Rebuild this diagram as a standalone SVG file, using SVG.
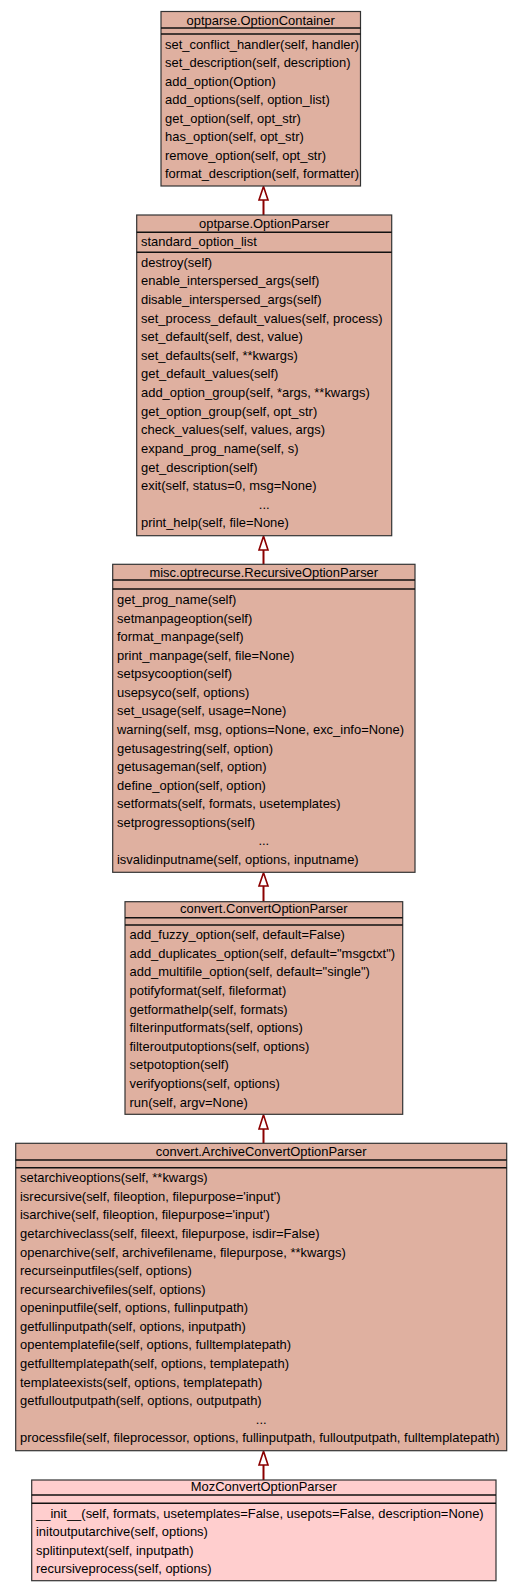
<svg xmlns="http://www.w3.org/2000/svg" width="528" height="1592" viewBox="0 0 528 1592">
<style>
.box{fill:#dfb0a0;stroke:#333;stroke-width:1.2}
.moz{fill:#ffcece;stroke:#333;stroke-width:1.2}
.sep{stroke:#111;stroke-width:1.6}
text{font-family:"Liberation Sans",Arial,Helvetica,sans-serif;font-size:12.95px;fill:#000}
.c{text-anchor:middle}
.edge{stroke:#8b0000;stroke-width:2;fill:none}
.head{stroke:#8b0000;stroke-width:1.6;fill:#fff}
</style>
<rect width="528" height="1592" fill="#fff"/>
<g id="connectors">
<line class="edge" x1="263.5" y1="200" x2="263.5" y2="215"/>
<polygon class="head" points="263.5,186.5 259,200 268,200"/>
<line class="edge" x1="263.5" y1="550" x2="263.5" y2="564.3"/>
<polygon class="head" points="263.5,536.2 259,550 268,550"/>
<line class="edge" x1="263.5" y1="886" x2="263.5" y2="901.7"/>
<polygon class="head" points="263.5,872.8 259,886 268,886"/>
<line class="edge" x1="263.5" y1="1129" x2="263.5" y2="1143.3"/>
<polygon class="head" points="263.5,1114.8 259,1129 268,1129"/>
<line class="edge" x1="263.5" y1="1465" x2="263.5" y2="1480"/>
<polygon class="head" points="263.5,1451.2 259,1465 268,1465"/>
</g>
<g id="OptionContainer">
<rect class="box" x="161" y="11.5" width="199.5" height="174.5"/>
<line class="sep" x1="161" y1="28" x2="360.5" y2="28"/>
<line class="sep" x1="161" y1="34" x2="360.5" y2="34"/>
<text class="c" x="260.7" y="25">optparse.OptionContainer</text>
<text x="165" y="49">set_conflict_handler(self, handler)</text>
<text x="165" y="67.45">set_description(self, description)</text>
<text x="165" y="85.9">add_option(Option)</text>
<text x="165" y="104.35">add_options(self, option_list)</text>
<text x="165" y="122.8">get_option(self, opt_str)</text>
<text x="165" y="141.25">has_option(self, opt_str)</text>
<text x="165" y="159.7">remove_option(self, opt_str)</text>
<text x="165" y="178.15">format_description(self, formatter)</text>
</g>
<g id="OptionParser">
<rect class="box" x="136.7" y="215" width="255" height="320.7"/>
<line class="sep" x1="136.7" y1="232.3" x2="391.7" y2="232.3"/>
<line class="sep" x1="136.7" y1="252.3" x2="391.7" y2="252.3"/>
<text class="c" x="264.2" y="228">optparse.OptionParser</text>
<text x="141" y="245.7">standard_option_list</text>
<text x="141" y="266.7">destroy(self)</text>
<text x="141" y="285.3">enable_interspersed_args(self)</text>
<text x="141" y="303.9">disable_interspersed_args(self)</text>
<text x="141" y="322.6">set_process_default_values(self, process)</text>
<text x="141" y="341.2">set_default(self, dest, value)</text>
<text x="141" y="359.8">set_defaults(self, **kwargs)</text>
<text x="141" y="378.4">get_default_values(self)</text>
<text x="141" y="397">add_option_group(self, *args, **kwargs)</text>
<text x="141" y="415.7">get_option_group(self, opt_str)</text>
<text x="141" y="434.3">check_values(self, values, args)</text>
<text x="141" y="452.9">expand_prog_name(self, s)</text>
<text x="141" y="471.5">get_description(self)</text>
<text x="141" y="490.1">exit(self, status=0, msg=None)</text>
<text class="c" x="264.2" y="508.8">...</text>
<text x="141" y="527.4">print_help(self, file=None)</text>
</g>
<g id="RecursiveOptionParser">
<rect class="box" x="112.7" y="564.3" width="302.3" height="308"/>
<line class="sep" x1="112.7" y1="580" x2="415" y2="580"/>
<line class="sep" x1="112.7" y1="589" x2="415" y2="589"/>
<text class="c" x="263.8" y="576.8">misc.optrecurse.RecursiveOptionParser</text>
<text x="117" y="604">get_prog_name(self)</text>
<text x="117" y="622.57">setmanpageoption(self)</text>
<text x="117" y="641.14">format_manpage(self)</text>
<text x="117" y="659.71">print_manpage(self, file=None)</text>
<text x="117" y="678.28">setpsycooption(self)</text>
<text x="117" y="696.85">usepsyco(self, options)</text>
<text x="117" y="715.42">set_usage(self, usage=None)</text>
<text x="117" y="733.99">warning(self, msg, options=None, exc_info=None)</text>
<text x="117" y="752.56">getusagestring(self, option)</text>
<text x="117" y="771.13">getusageman(self, option)</text>
<text x="117" y="789.7">define_option(self, option)</text>
<text x="117" y="808.27">setformats(self, formats, usetemplates)</text>
<text x="117" y="826.84">setprogressoptions(self)</text>
<text class="c" x="263.8" y="845.41">...</text>
<text x="117" y="863.98">isvalidinputname(self, options, inputname)</text>
</g>
<g id="ConvertOptionParser">
<rect class="box" x="125" y="901.7" width="277.7" height="212.6"/>
<line class="sep" x1="125" y1="917.7" x2="402.7" y2="917.7"/>
<line class="sep" x1="125" y1="925" x2="402.7" y2="925"/>
<text class="c" x="263.8" y="912.5">convert.ConvertOptionParser</text>
<text x="129.5" y="939">add_fuzzy_option(self, default=False)</text>
<text x="129.5" y="957.63">add_duplicates_option(self, default="msgctxt")</text>
<text x="129.5" y="976.26">add_multifile_option(self, default="single")</text>
<text x="129.5" y="994.89">potifyformat(self, fileformat)</text>
<text x="129.5" y="1013.52">getformathelp(self, formats)</text>
<text x="129.5" y="1032.15">filterinputformats(self, options)</text>
<text x="129.5" y="1050.78">filteroutputoptions(self, options)</text>
<text x="129.5" y="1069.41">setpotoption(self)</text>
<text x="129.5" y="1088.04">verifyoptions(self, options)</text>
<text x="129.5" y="1106.67">run(self, argv=None)</text>
</g>
<g id="ArchiveConvertOptionParser">
<rect class="box" x="15.7" y="1143.3" width="491" height="307.4"/>
<line class="sep" x1="15.7" y1="1160" x2="506.7" y2="1160"/>
<line class="sep" x1="15.7" y1="1167.7" x2="506.7" y2="1167.7"/>
<text class="c" x="261.2" y="1155.7">convert.ArchiveConvertOptionParser</text>
<text x="20" y="1182.3">setarchiveoptions(self, **kwargs)</text>
<text x="20" y="1200.87">isrecursive(self, fileoption, filepurpose='input')</text>
<text x="20" y="1219.44">isarchive(self, fileoption, filepurpose='input')</text>
<text x="20" y="1238.01">getarchiveclass(self, fileext, filepurpose, isdir=False)</text>
<text x="20" y="1256.58">openarchive(self, archivefilename, filepurpose, **kwargs)</text>
<text x="20" y="1275.15">recurseinputfiles(self, options)</text>
<text x="20" y="1293.72">recursearchivefiles(self, options)</text>
<text x="20" y="1312.29">openinputfile(self, options, fullinputpath)</text>
<text x="20" y="1330.86">getfullinputpath(self, options, inputpath)</text>
<text x="20" y="1349.43">opentemplatefile(self, options, fulltemplatepath)</text>
<text x="20" y="1368">getfulltemplatepath(self, options, templatepath)</text>
<text x="20" y="1386.57">templateexists(self, options, templatepath)</text>
<text x="20" y="1405.14">getfulloutputpath(self, options, outputpath)</text>
<text class="c" x="261.2" y="1423.71">...</text>
<text x="20" y="1442.28">processfile(self, fileprocessor, options, fullinputpath, fulloutputpath, fulltemplatepath)</text>
</g>
<g id="MozConvertOptionParser">
<rect class="moz" x="31.7" y="1480" width="464.3" height="100.7"/>
<line class="sep" x1="31.7" y1="1495" x2="496" y2="1495"/>
<line class="sep" x1="31.7" y1="1503.3" x2="496" y2="1503.3"/>
<text class="c" x="263.8" y="1490.9">MozConvertOptionParser</text>
<text x="36" y="1518">__init__(self, formats, usetemplates=False, usepots=False, description=None)</text>
<text x="36" y="1536.43">initoutputarchive(self, options)</text>
<text x="36" y="1554.86">splitinputext(self, inputpath)</text>
<text x="36" y="1573.29">recursiveprocess(self, options)</text>
</g>
</svg>
